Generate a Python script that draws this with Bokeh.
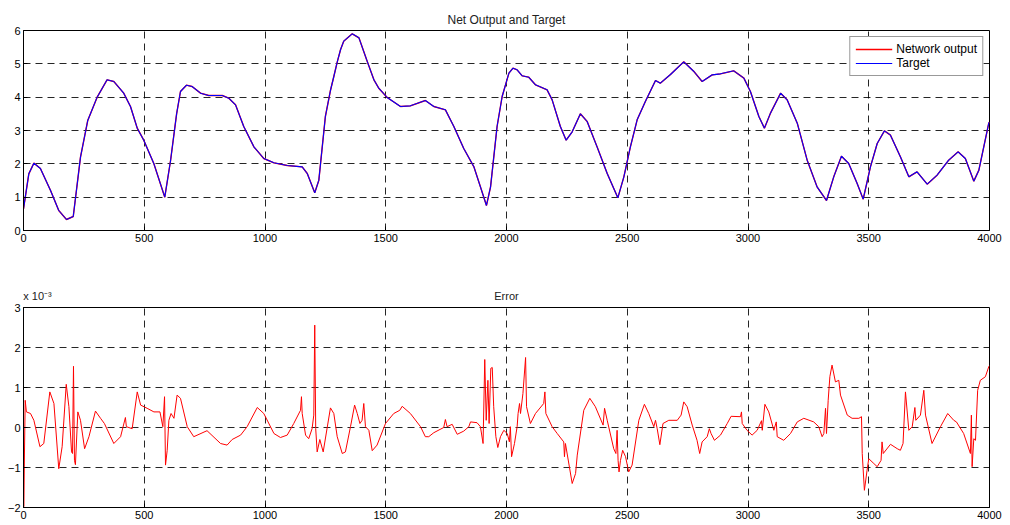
from bokeh.plotting import figure
from bokeh.models import Range1d, Legend, LegendItem, FixedTicker, LinearAxis
from bokeh.layouts import column
from bokeh.embed import file_html
from bokeh.resources import INLINE

# ---------------- data ----------------
x_ticks = [0, 500, 1000, 1500, 2000, 2500, 3000, 3500, 4000]
top_y_ticks = [0, 1, 2, 3, 4, 5, 6]
err_y_ticks = [-2, -1, 0, 1, 2, 3]

target_x = [0, 22, 43, 70, 112, 146, 178, 206, 236, 266, 305, 346, 374, 415, 443, 471, 498, 540, 585, 609,
            634, 650, 675, 698, 733, 767, 823, 850, 878, 912, 954, 995, 1037, 1092, 1154, 1175, 1206, 1223,
            1250, 1271, 1285, 1299, 1313, 1326, 1361, 1389, 1423, 1451, 1471, 1506, 1561, 1602, 1664, 1699,
            1747, 1782, 1823, 1865, 1892, 1917, 1934, 1961, 1982, 2010, 2027, 2044, 2065, 2092, 2120, 2168,
            2189, 2223, 2247, 2272, 2306, 2334, 2375, 2417, 2461, 2486, 2513, 2541, 2575, 2617, 2637, 2679,
            2734, 2776, 2810, 2852, 2886, 2941, 2983, 3010, 3045, 3068, 3093, 3135, 3162, 3204, 3245, 3286,
            3325, 3355, 3387, 3417, 3452, 3477, 3507, 3535, 3565, 3590, 3631, 3666, 3700, 3742, 3783, 3831,
            3870, 3900, 3935, 3956, 3997, 4000]
target_y = [0.65, 1.7, 2.02, 1.86, 1.2, 0.6, 0.33, 0.42, 2.2, 3.3, 4.0, 4.52, 4.47, 4.12, 3.72, 3.07, 2.71, 2.0, 1.0, 2.1,
            3.5, 4.17, 4.36, 4.32, 4.12, 4.05, 4.05, 3.97, 3.77, 3.12, 2.51, 2.16, 2.03, 1.95, 1.91, 1.71, 1.13, 1.51,
            3.42, 4.2, 4.62, 5.05, 5.43, 5.68, 5.9, 5.78, 5.08, 4.52, 4.27, 3.99, 3.72, 3.74, 3.9, 3.72,
            3.62, 3.12, 2.46, 1.91, 1.31, 0.75, 1.31, 3.12, 4.02, 4.72, 4.87, 4.82, 4.64, 4.6, 4.37, 4.22,
            3.92, 3.12, 2.71, 2.96, 3.5, 3.27, 2.51, 1.71, 0.98, 1.61, 2.51, 3.32, 3.87, 4.5, 4.42, 4.68,
            5.06, 4.77, 4.47, 4.67, 4.7, 4.79, 4.57, 4.17, 3.42, 3.07, 3.52, 4.12, 3.92, 3.22, 2.11, 1.31,
            0.9, 1.61, 2.23, 2.01, 1.41, 0.94, 1.91, 2.61, 2.99, 2.86, 2.21, 1.61, 1.76, 1.39, 1.66, 2.11,
            2.36, 2.16, 1.48, 1.81, 3.22, 3.25]
# network output is indistinguishable from the target at this scale
network_y = target_y

# error, in units of 1e-3
err_x = [0, 1, 7, 12, 29, 43, 68, 84, 109, 126, 146, 160, 177, 188, 199, 203, 207, 211, 215, 225, 236, 253, 271,
         298, 319, 335, 374, 402, 422, 426, 450, 471, 485, 512, 540, 565, 577, 584, 588, 595, 602, 611, 623, 636,
         650, 678, 705, 760, 816, 843, 864, 899, 926, 968, 995, 1037, 1064, 1092, 1119, 1147, 1151, 1154, 1168,
         1181, 1195, 1202, 1206, 1210, 1216, 1227, 1241, 1271, 1285, 1299, 1320, 1333, 1354, 1371, 1382, 1393,
         1402, 1409, 1416, 1430, 1444, 1464, 1499, 1533, 1558, 1568, 1602, 1644, 1664, 1678, 1699, 1740, 1747,
         1754, 1775, 1796, 1823, 1844, 1851, 1878, 1892, 1903, 1910, 1916, 1923, 1928, 1935, 1941, 1947, 1956,
         1964, 1975, 1989, 2003, 2012, 2016, 2021, 2033, 2044, 2048, 2054, 2058, 2068, 2079, 2083, 2099, 2120,
         2154, 2159, 2163, 2189, 2210, 2237, 2240, 2244, 2272, 2286, 2293, 2320, 2345, 2368, 2400, 2406, 2417,
         2444, 2453, 2458, 2462, 2466, 2472, 2481, 2493, 2506, 2520, 2548, 2571, 2589, 2610, 2617, 2624, 2635,
         2648, 2672, 2707, 2723, 2734, 2748, 2769, 2789, 2800, 2810, 2831, 2840, 2847, 2861, 2886, 2914, 2930,
         2969, 2973, 2976, 2996, 3017, 3038, 3056, 3059, 3070, 3086, 3107, 3117, 3121, 3148, 3176, 3204, 3231,
         3272, 3293, 3307, 3314, 3321, 3325, 3332, 3339, 3348, 3362, 3376, 3383, 3411, 3431, 3459, 3470, 3473,
         3482, 3493, 3500, 3521, 3535, 3551, 3555, 3560, 3590, 3618, 3631, 3642, 3652, 3666, 3680, 3691, 3695,
         3714, 3728, 3735, 3762, 3797, 3827, 3852, 3863, 3893, 3921, 3925, 3928, 3935, 3942, 3951, 3962, 3983,
         3997, 4000]
err_y = [-0.23, -1.98, 0.68, 0.39, 0.35, 0.18, -0.48, -0.4, 0.89, 0.6, -1.03, -0.48, 1.08, 0.52, -0.61, -0.65, 1.53,
         -0.82, -0.93, 0.39, 0.18, -0.53, -0.23, 0.41, 0.23, 0.1, -0.4, -0.23, 0.25, 0.02, -0.03, 0.89, 0.56, 0.48,
         0.39, 0.39, 0.02, 0.77, -0.94, -0.57, 0.18, 0.35, 0.23, 0.81, 0.73, 0.02, -0.23, -0.08, -0.4, -0.44, -0.3,
         -0.19, 0.02, 0.5, 0.35, -0.15, -0.25, -0.19, 0.1, 0.43, 0.77, 0.35, -0.19, -0.28, -0.03, 0.31, 2.56, -0.03,
         -0.61, -0.3, -0.61, 0.49, 0.35, -0.23, -0.65, -0.61, 0.02, 0.56, 0.35, 0.1, 0.18, 0.6, 0.02, -0.07, -0.58,
         -0.44, 0.1, 0.35, 0.43, 0.53, 0.35, 0.02, -0.23, -0.23, -0.13, 0.0, 0.2, 0.02, 0.08, -0.17, -0.09, 0.02,
         0.14, 0.12, 0.02, -0.4, 1.7, 0.18, 1.18, 0.1, 1.48, 1.5, 0.52, -0.23, -0.5, -0.23, -0.07, -0.15, -0.36,
         0.02, -0.73, -0.4, 0.02, 0.35, 0.6, 0.35, 0.85, 1.75, 0.52, 0.1, 0.35, 0.6, 0.89, 0.35, 0.02, -0.15, -0.36,
         -0.73, -0.4, -1.4, -1.15, -0.69, 0.43, 0.73, 0.52, 0.06, 0.48, 0.18, -0.53, -0.65, -0.07, -0.82, -1.11,
         -0.82, -0.57, -0.73, -1.11, -0.94, 0.18, 0.58, 0.35, 0.02, 0.18, -0.03, -0.43, 0.1, 0.18, 0.18, 0.31,
         0.64, 0.52, 0.06, -0.32, -0.65, -0.36, -0.23, -0.03, -0.15, -0.32, -0.19, 0.1, 0.28, 0.27, 0.39, 0.1,
         -0.07, -0.19, -0.07, 0.17, -0.07, 0.58, 0.39, -0.07, 0.14, -0.23, -0.32, -0.15, 0.14, 0.23, 0.14, 0.02,
         -0.23, -0.15, 0.48, -0.15, 0.68, 1.27, 1.56, 1.14, 1.18, 0.81, 0.31, 0.23, 0.23, 0.27, -0.65, -1.57,
         -1.07, -0.78, -0.9, -0.98, -0.82, -0.36, -0.65, -0.42, -0.53, -0.57, -0.4, 0.89, -0.07, 0.02, 0.5, 0.18,
         0.31, 0.93, 0.31, -0.4, 0.02, 0.35, 0.18, 0.14, -0.15, -0.65, 0.31, -0.98, -0.28, -0.32, 0.93, 1.18,
         1.27, 1.52, 1.55]

FONT = "Liberation Sans"


def style(p, yticks):
    p.background_fill_color = "white"
    p.border_fill_color = "white"
    p.outline_line_color = "black"
    p.outline_line_width = 1
    p.xaxis.ticker = FixedTicker(ticks=x_ticks)
    p.yaxis.ticker = FixedTicker(ticks=yticks)
    for ax in (p.xaxis[0], p.yaxis[0]):
        ax.major_tick_in = 4
        ax.major_tick_out = 0
        ax.minor_tick_line_color = None
        ax.axis_line_color = "black"
        ax.major_tick_line_color = "black"
        ax.major_label_text_font = FONT
        ax.major_label_text_font_size = "11px"
        ax.major_label_text_color = "black"
        ax.major_label_standoff = 3
    for g in (p.xgrid[0], p.ygrid[0]):
        g.grid_line_color = "black"
        g.grid_line_alpha = 0.85
        g.grid_line_dash = "7 5"
        g.grid_line_width = 1


# ---------------- top plot ----------------
p1 = figure(width=1010, height=262, output_backend="svg", toolbar_location=None,
            title="Net Output and Target",
            x_range=Range1d(0, 4000), y_range=Range1d(0, 6),
            min_border_left=23, min_border_right=21, min_border_top=30, min_border_bottom=32)
style(p1, top_y_ticks)
p1.title.text_font = FONT
p1.title.text_font_size = "12px"
p1.title.text_font_style = "normal"
p1.title.text_color = "#222222"
p1.title.align = "center"
p1.title.standoff = 8

r_out = p1.line(target_x, network_y, line_color="#ff0000", line_width=1.4)
r_tgt = p1.line(target_x, target_y, line_color="#0000ff", line_width=1.1)
legend = Legend(items=[LegendItem(label="Network output", renderers=[r_out]),
                       LegendItem(label="Target", renderers=[r_tgt])],
                location="top_right")
legend.label_text_font = FONT
legend.label_text_font_size = "12px"
legend.label_text_color = "black"
legend.border_line_color = "#333333"
legend.border_line_width = 1.5
legend.background_fill_color = "white"
legend.background_fill_alpha = 1
legend.glyph_width = 37
legend.glyph_height = 14
legend.label_height = 14
legend.label_standoff = 4
legend.padding = 5
legend.spacing = 0
legend.margin = 6
p1.add_layout(legend)

# ---------------- bottom plot ----------------
p2 = figure(width=1010, height=263, output_backend="svg", toolbar_location=None,
            x_range=Range1d(0, 4000), y_range=Range1d(-2, 3),
            min_border_left=23, min_border_right=21, min_border_top=45, min_border_bottom=18)
style(p2, err_y_ticks)
p2.line(err_x, err_y, line_color="#ff0000", line_width=1)

# title "Error" and the axis exponent "x 10^-3" share one baseline above the frame
head = LinearAxis(ticker=FixedTicker(ticks=[58, 2000]),
                  major_label_overrides={58: "x 10\u207b\u00b3", 2000: "Error"},
                  axis_line_color=None, major_tick_line_color=None, minor_tick_line_color=None,
                  major_tick_in=0, major_tick_out=0, major_label_standoff=6,
                  major_label_text_font=FONT, major_label_text_font_size="11px",
                  major_label_text_color="#222222")
p2.add_layout(head, "above")

layout = column(p1, p2, spacing=0)
open("out.html", "w").write(file_html(layout, INLINE))
